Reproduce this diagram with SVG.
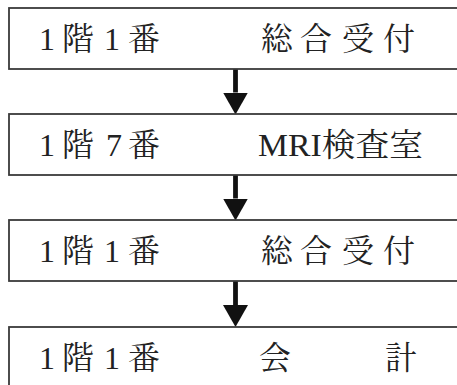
<svg xmlns="http://www.w3.org/2000/svg" width="457" height="385" viewBox="0 0 457 385">
<style>
.box{fill:#fff;stroke:#3a3a3a;stroke-width:1.8}
.t{font-family:"Liberation Serif","Noto Serif CJK JP","Noto Sans CJK JP",serif;font-size:32px;fill:#222;text-anchor:middle}
.ts{font-family:"Liberation Serif","Noto Serif CJK JP","Noto Sans CJK JP",serif;font-size:32px;fill:#222}
.arr{stroke:#111;stroke-width:4.8;fill:none}
</style>
<defs>
<marker id="ah" markerUnits="userSpaceOnUse" viewBox="0 -12.5 22 25" markerWidth="22" markerHeight="25" refX="0" refY="0" orient="auto">
<path d="M0,-12.5 L22,0 L0,12.5 Z" fill="#111"/>
</marker>
</defs>
<rect width="457" height="385" fill="#fff"/>
<g id="connectors">
<line class="arr" x1="235.5" y1="69" x2="235.5" y2="92.5" marker-end="url(#ah)"/>
<line class="arr" x1="235.5" y1="175" x2="235.5" y2="198.5" marker-end="url(#ah)"/>
<line class="arr" x1="235.5" y1="281" x2="235.5" y2="305" marker-end="url(#ah)"/>
</g>
<g id="node1">
<rect class="box" x="9" y="8" width="470" height="61"/>
<text class="t" y="50"><tspan x="47">1</tspan><tspan x="78">階</tspan><tspan x="112">1</tspan><tspan x="144">番</tspan></text>
<text class="t" y="50"><tspan x="277">総</tspan><tspan x="316">合</tspan><tspan x="358">受</tspan><tspan x="399">付</tspan></text>
</g>
<g id="node2">
<rect class="box" x="9" y="114" width="470" height="61"/>
<text class="t" y="156"><tspan x="47">1</tspan><tspan x="78">階</tspan><tspan x="114">7</tspan><tspan x="144">番</tspan></text>
<text class="ts" x="258" y="156" textLength="165" lengthAdjust="spacingAndGlyphs">MRI検査室</text>
</g>
<g id="node3">
<rect class="box" x="9" y="220" width="470" height="61"/>
<text class="t" y="262"><tspan x="47">1</tspan><tspan x="78">階</tspan><tspan x="112">1</tspan><tspan x="144">番</tspan></text>
<text class="t" y="262"><tspan x="277">総</tspan><tspan x="316">合</tspan><tspan x="358">受</tspan><tspan x="399">付</tspan></text>
</g>
<g id="node4">
<rect class="box" x="9" y="327" width="470" height="61"/>
<text class="t" y="369"><tspan x="47">1</tspan><tspan x="78">階</tspan><tspan x="112">1</tspan><tspan x="144">番</tspan></text>
<text class="t" y="369"><tspan x="275">会</tspan><tspan x="401">計</tspan></text>
</g>
</svg>
